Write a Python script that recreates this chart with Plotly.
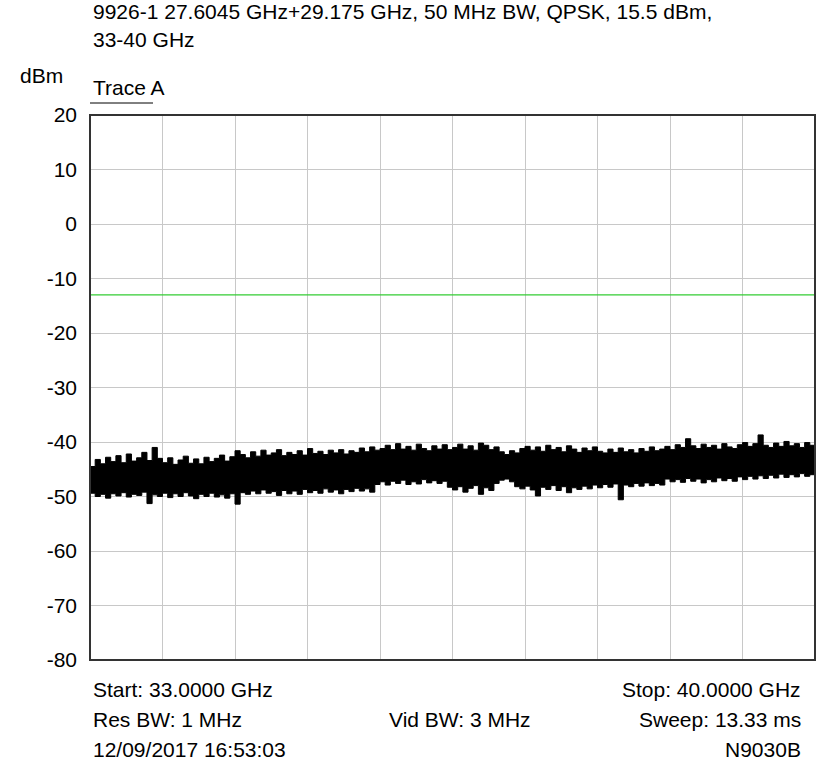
import numpy as np
import plotly.graph_objects as go

# ---- data ----
f_start_ghz = 33.0
f_stop_ghz = 40.0
limit_dbm = -13.0
y_ticks = [20, 10, 0, -10, -20, -30, -40, -50, -60, -70, -80]

# upper envelope of the noise trace, sampled every 0.05 GHz (33.00 .. 40.00)
trace_upper = [
    -44.5, -43.2, -44.0, -42.8, -43.6, -42.5, -43.8, -42.2, -43.5, -42.9,
    -41.9, -43.4, -41.0, -43.0, -43.8, -42.9, -44.1, -43.3, -42.6, -43.9,
    -43.1, -44.0, -42.8, -43.6, -43.0, -42.4, -43.5, -42.7, -41.6, -42.3,
    -42.9, -41.8, -42.6, -41.5, -42.4, -42.0, -41.4, -42.5, -41.9, -42.3,
    -41.6, -42.4, -41.2, -42.1, -41.7, -42.3, -41.5, -42.0, -41.4, -42.2,
    -41.6, -41.9, -41.1, -41.8, -40.9, -41.5, -41.2, -40.6, -41.4, -40.3,
    -41.3, -40.8, -41.5, -40.4, -41.2, -41.6, -40.7, -41.3, -40.5, -41.4,
    -41.0, -40.4, -41.3, -40.7, -41.5, -40.2, -40.6, -41.4, -40.9, -41.8,
    -42.3, -41.6, -42.0, -41.2, -40.8, -41.5, -40.9, -41.7, -40.6, -41.4,
    -41.0, -41.8, -40.7, -41.3, -41.9, -41.1, -41.6, -40.9, -41.7, -42.0,
    -41.3, -41.9, -41.1, -41.8, -41.4, -42.0, -41.2, -41.7, -40.9, -41.6,
    -41.3, -40.8, -41.4, -40.5, -41.0, -39.4, -40.7, -41.2, -40.4, -41.0,
    -40.6, -41.3, -40.3, -40.9, -41.2, -40.5, -40.1, -40.8, -40.3, -38.7,
    -40.6, -41.0, -40.2, -40.8, -39.9, -40.7, -40.3, -41.0, -40.1, -40.6,
    -40.4,
]
# lower envelope of the noise trace, same sampling
trace_lower = [
    -50.2, -49.4, -50.0, -49.6, -50.3, -49.5, -49.9, -49.3, -50.1, -49.6,
    -49.8, -49.2, -51.3, -49.7, -50.0, -49.4, -50.2, -49.5, -50.0, -49.3,
    -49.9, -50.4, -49.6, -50.0, -49.4, -50.1, -49.7, -50.3, -49.5, -51.4,
    -49.3, -49.6, -49.0, -49.5, -48.8, -49.4, -49.1, -49.8, -48.9, -49.5,
    -49.0, -49.6, -48.7, -49.3, -48.9, -49.4, -48.6, -49.2, -48.8, -49.5,
    -48.7, -49.1, -48.5, -49.0, -48.6, -49.2, -47.8, -47.3, -47.9, -47.2,
    -47.6, -47.0, -47.8, -47.3, -47.7, -46.9, -47.5, -47.1, -47.6, -47.2,
    -48.3, -48.8, -48.2, -49.2, -48.5, -48.0, -49.6, -48.4, -48.9, -47.6,
    -47.0, -46.8, -47.3, -48.2, -48.6, -48.1, -48.8, -49.9, -48.3, -48.7,
    -48.0, -48.9, -48.2, -49.3, -48.4, -48.7, -48.1, -48.6, -47.9, -48.4,
    -47.8, -48.3, -47.7, -50.6, -47.9, -48.2, -47.6, -48.1, -47.5, -48.0,
    -47.6, -47.9, -46.8, -47.3, -46.9, -47.4, -46.7, -47.2, -46.8, -47.5,
    -46.9, -47.3, -46.6, -47.1, -46.7, -47.2, -46.4, -46.9, -46.3, -46.8,
    -46.2, -46.7, -46.1, -46.6, -45.9, -46.5, -46.0, -46.4, -45.8, -46.3,
    -46.0,
]

title_line1 = "9926-1 27.6045 GHz+29.175 GHz, 50 MHz BW, QPSK, 15.5 dBm,"
title_line2 = "33-40 GHz"
y_unit = "dBm"
trace_name = "Trace A"
footer_left = ["Start: 33.0000 GHz", "Res BW: 1 MHz", "12/09/2017 16:53:03"]
footer_mid = ["", "Vid BW: 3 MHz", ""]
footer_right = ["Stop: 40.0000 GHz", "Sweep: 13.33 ms", "N9030B"]

# ---- figure ----
W, H = 818, 763
ML, MR, MT, MB = 90, 3, 115, 103
FONT = "Liberation Sans, Arial, sans-serif"
FS = 21

freq = np.linspace(f_start_ghz, f_stop_ghz, len(trace_upper))

fig = go.Figure()
fig.add_trace(go.Scatter(
    x=np.concatenate([freq, freq[::-1]]),
    y=np.concatenate([np.array(trace_upper), np.array(trace_lower)[::-1]]),
    fill="toself", fillcolor="black", mode="lines",
    line=dict(color="black", width=1, shape="hv"), hoverinfo="skip", showlegend=False,
))
fig.add_trace(go.Scatter(
    x=[f_start_ghz, f_stop_ghz], y=[limit_dbm, limit_dbm], mode="lines",
    line=dict(color="#33cc33", width=1.3), showlegend=False,
))

plot_h = H - MT - MB
plot_w = W - ML - MR


def py(pix_y):
    """pixel y (from top) -> paper y"""
    return (H - MB - pix_y) / plot_h


def px(pix_x):
    return (pix_x - ML) / plot_w


ann = []
ann.append(dict(text=title_line1, x=px(91), y=py(12), xanchor="left", yanchor="middle"))
ann.append(dict(text=title_line2, x=px(91), y=py(40), xanchor="left", yanchor="middle"))
ann.append(dict(text=y_unit, x=px(18), y=py(75), xanchor="left", yanchor="middle"))
ann.append(dict(text=trace_name, x=px(91), y=py(88), xanchor="left", yanchor="middle"))
rows = [689, 719, 749]
for i, yy in enumerate(rows):
    ann.append(dict(text=footer_left[i], x=px(91), y=py(yy), xanchor="left", yanchor="middle"))
    if footer_mid[i]:
        ann.append(dict(text=footer_mid[i], x=px(460), y=py(yy), xanchor="center", yanchor="middle"))
    ann.append(dict(text=footer_right[i], x=px(803), y=py(yy), xanchor="right", yanchor="middle"))
for a in ann:
    a.update(xref="paper", yref="paper", showarrow=False,
             font=dict(family=FONT, size=FS, color="black"))

fig.update_layout(
    width=W, height=H,
    margin=dict(l=ML, r=MR, t=MT, b=MB, pad=0),
    paper_bgcolor="white", plot_bgcolor="white",
    font=dict(family=FONT, size=FS, color="black"),
    annotations=ann,
    shapes=[
        dict(type="line", xref="paper", yref="paper", x0=0, x1=px(153), y0=py(103), y1=py(103),
             line=dict(color="black", width=1)),
        dict(type="rect", xref="paper", yref="paper", x0=0, x1=1, y0=0, y1=1,
             line=dict(color="#333333", width=2), layer="above"),
    ],
    xaxis=dict(range=[f_start_ghz, f_stop_ghz], showticklabels=False, ticks="",
               showgrid=True, gridcolor="#c8c8c8", gridwidth=1, dtick=0.7, tick0=f_start_ghz,
               zeroline=False, showline=False),
    yaxis=dict(range=[-80, 20], tickvals=y_ticks, ticktext=[str(v) for v in y_ticks],
               showgrid=True, gridcolor="#c8c8c8", gridwidth=1, ticks="",
               ticklabelstandoff=12, zeroline=False, showline=False,
               tickfont=dict(family=FONT, size=FS, color="black")),
)

fig.write_html("out.html")
